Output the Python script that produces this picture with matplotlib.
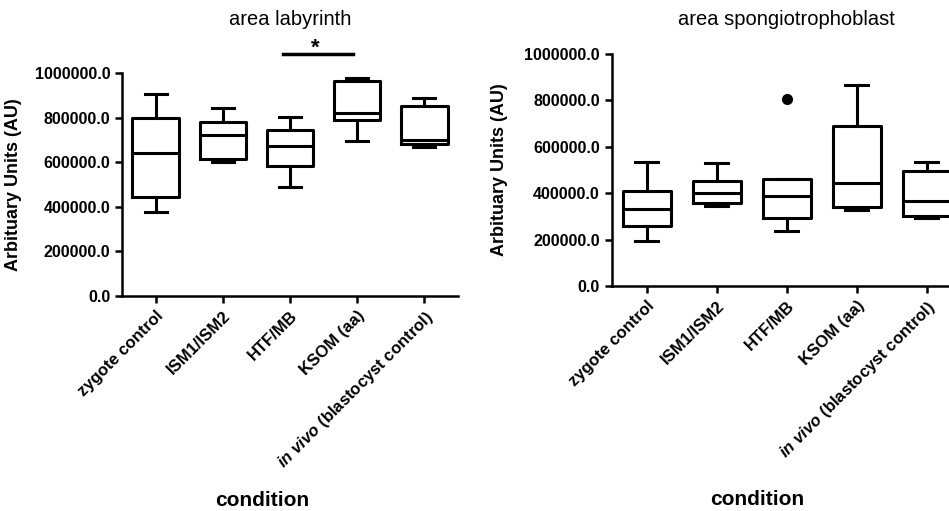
import matplotlib
matplotlib.use("Agg")
import matplotlib.pyplot as plt

plt.rcParams['font.family'] = ['Liberation Sans', 'DejaVu Sans']
plt.rcParams['mathtext.fontset'] = 'custom'
plt.rcParams['mathtext.it'] = 'Liberation Sans:italic:bold'
plt.rcParams['mathtext.rm'] = 'Liberation Sans:bold'

conditions = ["zygote control", "ISM1/ISM2", "HTF/MB", "KSOM (aa)",
              r"$\mathit{in\ vivo}$ (blastocyst control)"]

# area labyrinth
lab_whislo = [378000, 600000, 487000, 695000, 667000]
lab_q1 = [445000, 613000, 582000, 789000, 680000]
lab_med = [643000, 722000, 674000, 819000, 698000]
lab_q3 = [797000, 779000, 744000, 964000, 852000]
lab_whishi = [904000, 844000, 801000, 976000, 889000]
lab_fliers = [[], [], [], [], []]

# area spongiotrophoblast
spo_whislo = [194000, 346000, 237000, 328000, 293000]
spo_q1 = [260000, 359000, 294000, 340000, 303000]
spo_med = [333000, 400000, 389000, 444000, 366000]
spo_q3 = [411000, 454000, 460000, 690000, 497000]
spo_whishi = [533000, 530000, 462000, 866000, 536000]
spo_fliers = [[], [], [807000], [], []]

yticks = [0, 200000, 400000, 600000, 800000, 1000000]


def make_stats(wlo, q1, med, q3, whi, fl):
    return [dict(whislo=a, q1=b, med=c, q3=d, whishi=e, fliers=f)
            for a, b, c, d, e, f in zip(wlo, q1, med, q3, whi, fl)]


def draw_panel(ax, stats, title, title_y, label_y):
    lw = 2.2
    ax.bxp(stats, positions=range(1, 6), widths=0.69,
           boxprops=dict(color='black', linewidth=lw),
           medianprops=dict(color='black', linewidth=lw),
           whiskerprops=dict(color='black', linewidth=lw),
           capprops=dict(color='black', linewidth=lw),
           capwidths=0.33,
           flierprops=dict(marker='o', markerfacecolor='black',
                           markeredgecolor='black', markersize=7))
    ax.set_xlim(0.5, 5.5)
    ax.set_ylim(0, 1000000)
    ax.set_yticks(yticks)
    ax.set_yticklabels([f"{v:.1f}" for v in yticks], fontweight='bold', fontsize=11.5)
    ax.set_xticks(range(1, 6))
    ax.set_xticklabels(conditions, rotation=45, ha='right', rotation_mode='anchor',
                       fontweight='bold', fontsize=12)
    for s in ['top', 'right']:
        ax.spines[s].set_visible(False)
    for s in ['left', 'bottom']:
        ax.spines[s].set_linewidth(1.8)
    ax.tick_params(width=1.8, length=5)
    ax.text(0.5, title_y, title, transform=ax.transAxes, ha='center',
            va='center', fontsize=14.5)
    ax.set_ylabel("Arbituary Units (AU)", fontweight='bold', fontsize=13)
    ax.yaxis.set_label_coords(-0.297, 0.5)
    ax.set_xlabel("condition", fontweight='bold', fontsize=15, va='center')
    ax.xaxis.set_label_coords(0.416, label_y)


fig = plt.figure(figsize=(9.49, 5.11), dpi=100)
ax1 = fig.add_axes([0.1286, 0.4207, 0.354, 0.4364])
ax2 = fig.add_axes([0.6446, 0.4403, 0.3688, 0.454])

draw_panel(ax1, make_stats(lab_whislo, lab_q1, lab_med, lab_q3, lab_whishi, lab_fliers),
           "area labyrinth", 1.238, -0.915)
draw_panel(ax2, make_stats(spo_whislo, spo_q1, spo_med, spo_q3, spo_whishi, spo_fliers),
           "area spongiotrophoblast", 1.147, -0.922)

# significance bar HTF/MB vs KSOM (aa)
ax1.plot([2.9, 3.93], [1085000, 1085000], color='black', linewidth=2.5, clip_on=False)
ax1.text(3.37, 1110000, "*", ha='center', va='center', fontsize=16, fontweight='bold')

fig.savefig("out.png", dpi=100)
